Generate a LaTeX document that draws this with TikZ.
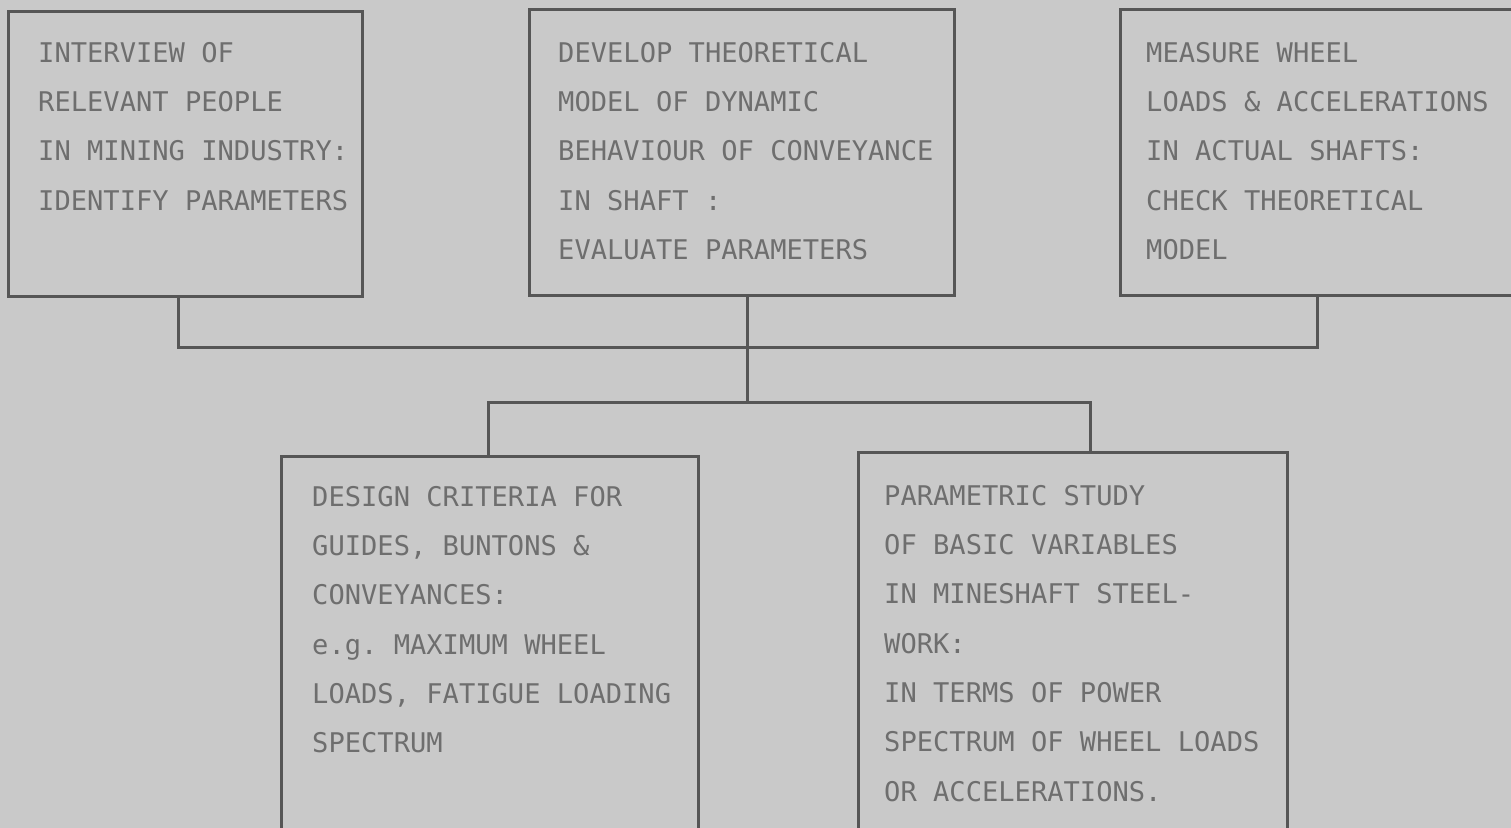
\documentclass[tikz,border=0pt]{standalone}
\usepackage{fontspec}
\setmonofont{DejaVu Sans Mono}
\usepackage{tikz}
\usetikzlibrary{positioning}
\definecolor{paper}{HTML}{C9C9C9}
\definecolor{ink}{HTML}{565656}
\definecolor{type}{HTML}{6E6E6E}
\tikzset{
  box/.style={draw=ink,line width=3bp,rectangle,anchor=north west,inner sep=0pt,outer sep=0pt},
  boxtext/.style={anchor=north west,inner sep=0pt,align=left,text=type,
    font=\ttfamily\fontsize{27.1bp}{49.3bp}\selectfont},
  wire/.style={draw=ink,line width=3bp,line cap=rect},
}
\begin{document}
\begin{tikzpicture}[line join=miter]
%%
\fill [paper] (0bp,0bp) rectangle (1511bp,828bp);
\useasboundingbox (0bp,0bp) rectangle (1511bp,828bp);
\node (node_interview) at (8bp,816bp) [box,minimum width=354bp,minimum height=285bp] {};
  \node (node_develop) at (529bp,818bp) [box,minimum width=425bp,minimum height=286bp] {};
  \node (node_measure) at (1120bp,818bp) [box,minimum width=394bp,minimum height=286bp] {};
  \node (node_criteria) at (281bp,371bp) [box,minimum width=417bp,minimum height=380bp] {};
  \node (node_parametric) at (858bp,375bp) [box,minimum width=429bp,minimum height=385bp] {};
%
\node (text_interview) at (38bp,786bp) [boxtext] {INTERVIEW OF\\RELEVANT PEOPLE\\IN MINING INDUSTRY:\\IDENTIFY PARAMETERS};
  \node (text_develop) at (558bp,786bp) [boxtext] {DEVELOP THEORETICAL\\MODEL OF DYNAMIC\\BEHAVIOUR OF CONVEYANCE\\IN SHAFT :\\EVALUATE PARAMETERS};
  \node (text_measure) at (1146bp,786bp) [boxtext] {MEASURE WHEEL\\LOADS \& ACCELERATIONS\\IN ACTUAL SHAFTS:\\CHECK THEORETICAL\\MODEL};
  \node (text_criteria) at (312bp,342bp) [boxtext] {DESIGN CRITERIA FOR\\GUIDES, BUNTONS \&\\CONVEYANCES:\\e.g. MAXIMUM WHEEL\\LOADS, FATIGUE LOADING\\SPECTRUM};
  \node (text_parametric) at (884bp,343bp) [boxtext] {PARAMETRIC STUDY\\OF BASIC VARIABLES\\IN MINESHAFT STEEL-\\WORK:\\IN TERMS OF POWER\\SPECTRUM OF WHEEL LOADS\\OR ACCELERATIONS.};
%
\coordinate (bus_left) at (178bp,480bp);
  \coordinate (bus_right) at (1317bp,480bp);
  \coordinate (bus_hub) at (747bp,480bp);
  \coordinate (fork_hub) at (747bp,425bp);
  \coordinate (fork_left) at (488bp,425bp);
  \coordinate (fork_right) at (1090bp,425bp);
  \draw [wire] (bus_left |- node_interview.south) -- (bus_left) -- (bus_right) -- (bus_right |- node_measure.south);
  \draw [wire] (bus_hub |- node_develop.south) -- (fork_hub);
  \draw [wire] (fork_left |- node_criteria.north) -- (fork_left) -- (fork_right) -- (fork_right |- node_parametric.north);
%
\end{tikzpicture}
\end{document}
